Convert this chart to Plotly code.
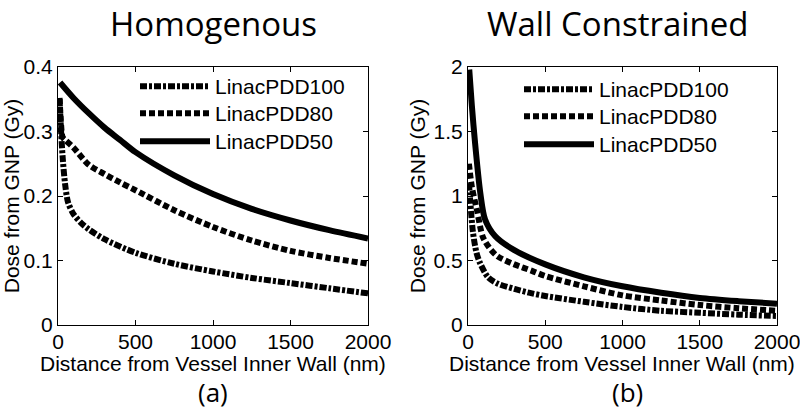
import plotly.graph_objects as go

# ---- data ----
series_names = ["LinacPDD100", "LinacPDD80", "LinacPDD50"]

# (a) Homogenous
hom_x_100 = [10, 20, 30, 45, 65, 100, 150, 200, 300, 500, 750, 1000, 1250, 1500, 1750, 2000]
hom_y_100 = [0.350, 0.300, 0.260, 0.220, 0.190, 0.172, 0.158, 0.148, 0.133, 0.112, 0.095, 0.083, 0.073, 0.065, 0.057, 0.049]
hom_x_80 = [10, 20, 30, 50, 100, 200, 300, 400, 500, 750, 1000, 1250, 1500, 1750, 2000]
hom_y_80 = [0.352, 0.310, 0.291, 0.286, 0.275, 0.248, 0.234, 0.221, 0.209, 0.178, 0.152, 0.131, 0.115, 0.104, 0.095]
hom_x_50 = [13, 100, 200, 300, 400, 500, 750, 1000, 1250, 1500, 1750, 2000]
hom_y_50 = [0.376, 0.352, 0.328, 0.306, 0.287, 0.268, 0.232, 0.203, 0.180, 0.162, 0.147, 0.134]

# (b) Wall Constrained
wall_x_100 = [6, 15, 32, 55, 78, 130, 194, 300, 414, 500, 750, 1000, 1250, 1500, 1750, 2000]
wall_y_100 = [1.10, 0.95, 0.72, 0.56, 0.48, 0.37, 0.32, 0.28, 0.245, 0.225, 0.18, 0.14, 0.11, 0.095, 0.08, 0.07]
wall_x_80 = [6, 25, 58, 97, 150, 194, 300, 414, 500, 750, 1000, 1250, 1500, 1750, 2000]
wall_y_80 = [1.25, 1.07, 0.89, 0.68, 0.58, 0.53, 0.47, 0.42, 0.38, 0.30, 0.23, 0.19, 0.155, 0.13, 0.11]
wall_x_50 = [8, 25, 45, 80, 110, 175, 300, 500, 750, 1000, 1250, 1500, 1750, 2000]
wall_y_50 = [1.98, 1.70, 1.42, 1.02, 0.82, 0.69, 0.58, 0.47, 0.37, 0.30, 0.25, 0.21, 0.185, 0.165]

x_ticks = [0, 500, 1000, 1500, 2000]
hom_y_ticks = [0, 0.1, 0.2, 0.3, 0.4]
hom_y_ticktext = ["0", "0.1", "0.2", "0.3", "0.4"]
wall_y_ticks = [0, 0.5, 1, 1.5, 2]
wall_y_ticktext = ["0", "0.5", "1", "1.5", "2"]

panel_titles = ["Homogenous", "Wall Constrained"]
panel_labels = ["(a)", "(b)"]
x_title = "Distance from Vessel Inner Wall (nm)"
y_title = "Dose from GNP (Gy)"

# ---- styling ----
W, H = 800, 410
dashes = ["7px,2px,3px,2px", "6px,3px", "solid"]
LW = 6
tick_font = dict(family="Liberation Sans, Arial, sans-serif", size=21, color="black")
title_font = dict(family="Open Sans, sans-serif", size=33, color="black")


def px_x(p):
    return p / W


def px_y(p):
    return 1 - p / H


fig = go.Figure()

hom = [(hom_x_100, hom_y_100), (hom_x_80, hom_y_80), (hom_x_50, hom_y_50)]
wall = [(wall_x_100, wall_y_100), (wall_x_80, wall_y_80), (wall_x_50, wall_y_50)]

legend_ids = []
for i, (xs, ys) in enumerate(hom):
    lid = "legend" if i == 0 else f"legend{i + 1}"
    legend_ids.append(lid)
    fig.add_trace(go.Scatter(x=xs, y=ys, mode="lines", name=series_names[i],
                             line=dict(color="black", width=LW, dash=dashes[i], shape="spline", smoothing=0.8),
                             xaxis="x", yaxis="y", legend=lid))
for i, (xs, ys) in enumerate(wall):
    lid = f"legend{i + 4}"
    legend_ids.append(lid)
    fig.add_trace(go.Scatter(x=xs, y=ys, mode="lines", name=series_names[i],
                             line=dict(color="black", width=LW, dash=dashes[i], shape="spline", smoothing=0.8),
                             xaxis="x2", yaxis="y2", legend=lid))

ydom = [px_y(325), px_y(67)]
axis_common = dict(showline=True, linecolor="black", linewidth=1, mirror="ticks",
                   ticks="inside", ticklen=5, tickcolor="black", showgrid=False,
                   zeroline=False, tickfont=tick_font)

fig.update_layout(
    width=W, height=H,
    margin=dict(l=0, r=0, t=0, b=0, autoexpand=False),
    paper_bgcolor="white", plot_bgcolor="white",
    xaxis=dict(domain=[px_x(58), px_x(368)], range=[0, 2000], tickvals=x_ticks, anchor="y",
               ticklabelstandoff=-2, ticklabeloverflow="allow", **axis_common),
    yaxis=dict(domain=ydom, range=[0, 0.4], tickvals=hom_y_ticks, ticktext=hom_y_ticktext, anchor="x",
               title=dict(text=y_title, font=tick_font, standoff=2), **axis_common),
    xaxis2=dict(domain=[px_x(468), px_x(777)], range=[0, 2000], tickvals=x_ticks, anchor="y2",
                ticklabelstandoff=-2, ticklabeloverflow="allow", **axis_common),
    yaxis2=dict(domain=ydom, range=[0, 2], tickvals=wall_y_ticks, ticktext=wall_y_ticktext, anchor="x2",
                title=dict(text=y_title, font=tick_font, standoff=2), **axis_common),
    showlegend=True,
)

# one legend box per entry so the rows sit where the reference has them
legend_pos = [(135, 66), (135, 93), (135, 121), (519, 69), (519, 96), (519, 124)]
for lid, (lx, ly) in zip(legend_ids, legend_pos):
    fig.update_layout({lid: dict(x=px_x(lx), y=px_y(ly), xanchor="left", yanchor="top",
                                 bgcolor="rgba(0,0,0,0)", font=tick_font, itemwidth=70,
                                 borderwidth=0)})

for i, cx in enumerate([213, 622]):
    fig.add_annotation(text=panel_titles[i], x=px_x([213, 618][i]), y=px_y(23), xref="paper", yref="paper",
                       showarrow=False, font=title_font, xanchor="center", yanchor="middle")
    fig.add_annotation(text=x_title, x=px_x(cx), y=px_y(363), xref="paper", yref="paper",
                       showarrow=False, font=tick_font, xanchor="center", yanchor="middle")
    fig.add_annotation(text=panel_labels[i], x=px_x([213, 627][i]), y=px_y(392), xref="paper", yref="paper",
                       showarrow=False, font=dict(family="Open Sans, sans-serif", size=26, color="black"),
                       xanchor="center", yanchor="middle")

# remove the browser's default page margin so the 800x410 figure fills the window
fig.write_html("out.html", config={"displayModeBar": False},
               post_script="document.body.style.margin='0';")
